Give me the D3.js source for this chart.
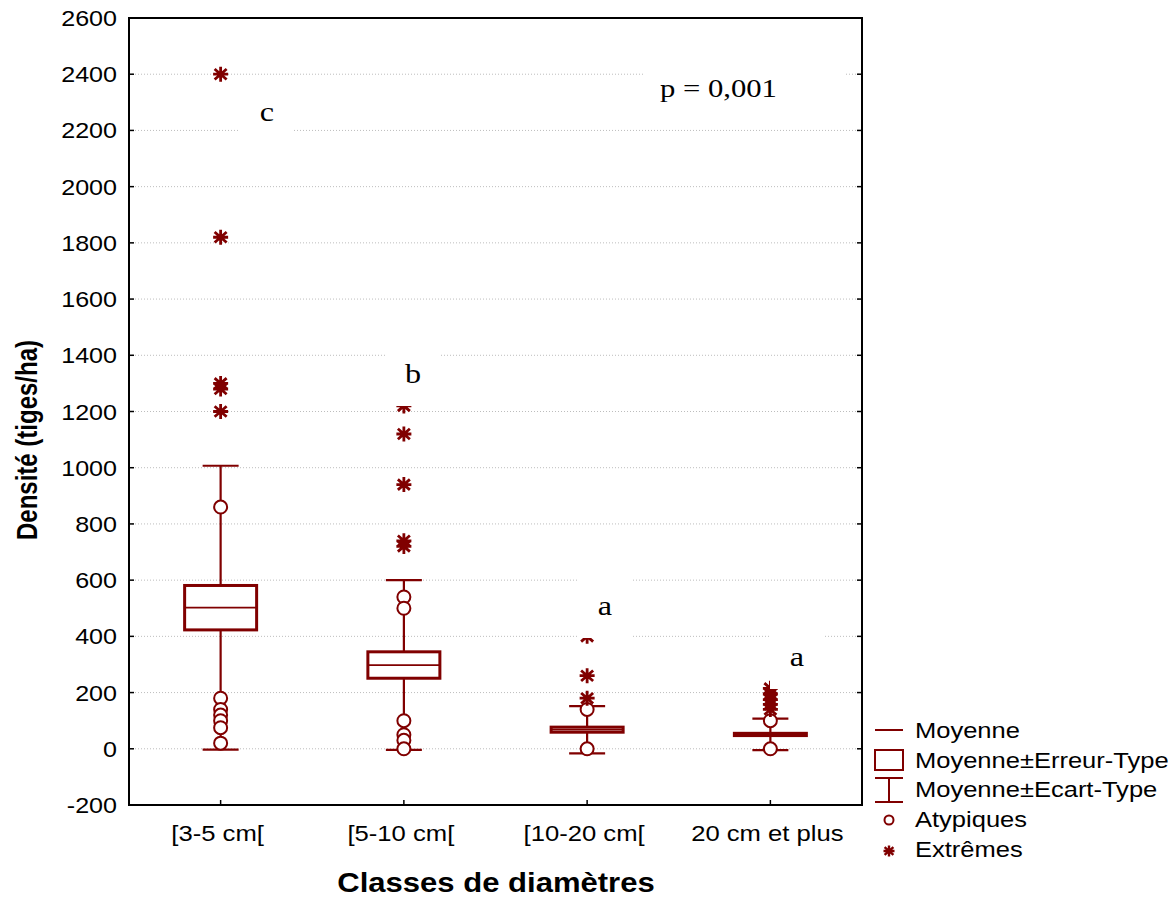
<!DOCTYPE html>
<html><head><meta charset="utf-8">
<script src="https://cdn.jsdelivr.net/npm/d3@7/dist/d3.min.js"></script>
<style>html,body{margin:0;padding:0;background:#fff;}svg{display:block;}</style>
</head><body><svg id="chart" width="1176" height="897"></svg>
<script>
// ---- data ----
const categories = ["[3-5 cm[", "[5-10 cm[", "[10-20 cm[", "20 cm et plus"];
const means = [502, 298, 68, 51];
const stdErrors = [79, 47, 9, 4];
const stdDevs = [505, 302, 84, 56];
const outliers = [
  [860, 180, 140, 120, 100, 75, 20],
  [540, 500, 100, 50, 30, 0],
  [140, 0],
  [100, 0]
];
const extremes = [
  [2400, 1820, 1300, 1280, 1200],
  [1220, 1120, 940, 740, 720],
  [400, 260, 180],
  [215, 195, 175, 158, 140]
];
const groupLetters = ["c", "b", "a", "a"];
const yTicks = [-200, 0, 200, 400, 600, 800, 1000, 1200, 1400, 1600, 1800, 2000, 2200, 2400, 2600];
const pText = "p = 0,001";
const legendLabels = ["Moyenne", "Moyenne±Erreur-Type", "Moyenne±Ecart-Type", "Atypiques", "Extrêmes"];
const yTitle = "Densité (tiges/ha)";
const xTitle = "Classes de diamètres";

// ---- layout ----
const L = 129, R = 862, T = 18, B = 805;
const red = "#800000";
const SX = 1.14;
const svg = d3.select("#chart");
const y = d3.scaleLinear().domain([-200, 2600]).range([B, T]);
const x = d3.scalePoint().domain(categories).range([L, R]).padding(0.5);

function htext(g, tx, ty, str, opts) {
  const t = g.append("g").attr("transform", `translate(${tx},${ty}) scale(${opts.sx || SX},1)`)
    .append("text").attr("x", 0).attr("y", 0).text(str)
    .attr("font-family", opts.family || "'Liberation Sans', Arial, sans-serif")
    .attr("font-size", opts.size).attr("fill", "#000")
    .attr("text-anchor", opts.anchor || "start");
  if (opts.weight) t.attr("font-weight", opts.weight);
  return t;
}

// gridlines
svg.append("g").selectAll("line").data(yTicks).join("line")
  .attr("x1", L).attr("x2", R).attr("y1", d => y(d)).attr("y2", d => y(d))
  .attr("stroke", "#bdbdbd").attr("stroke-width", 1).attr("stroke-dasharray", "1,2");

const gBox = svg.append("g");
const boxW = 72, capW = 36;
categories.forEach((c, i) => {
  const cx = x(c);
  const m = means[i], se = stdErrors[i], sd = stdDevs[i];
  gBox.append("line").attr("x1", cx).attr("x2", cx).attr("y1", y(m + sd)).attr("y2", y(m - sd))
    .attr("stroke", red).attr("stroke-width", 2.2);
  [m + sd, m - sd].forEach(v => gBox.append("line")
    .attr("x1", cx - capW / 2).attr("x2", cx + capW / 2).attr("y1", y(v)).attr("y2", y(v))
    .attr("stroke", red).attr("stroke-width", 2.2));
  gBox.append("rect").attr("x", cx - boxW / 2).attr("width", boxW)
    .attr("y", y(m + se)).attr("height", y(m - se) - y(m + se))
    .attr("fill", "#fff").attr("stroke", red).attr("stroke-width", 3);
  gBox.append("line").attr("x1", cx - boxW / 2).attr("x2", cx + boxW / 2).attr("y1", y(m)).attr("y2", y(m))
    .attr("stroke", red).attr("stroke-width", 1.8);
});

function star(g, cx, cy, r, w) {
  const d = `M${cx},${cy - r}L${cx},${cy + r}M${cx - r},${cy}L${cx + r},${cy}` +
    `M${cx - r * 0.8},${cy - r * 0.7}L${cx + r * 0.8},${cy + r * 0.7}` +
    `M${cx - r * 0.8},${cy + r * 0.7}L${cx + r * 0.8},${cy - r * 0.7}`;
  g.append("path").attr("d", d).attr("stroke", red).attr("stroke-width", w).attr("fill", "none");
}
const gPts = svg.append("g");
categories.forEach((c, i) => {
  const cx = x(c);
  outliers[i].forEach(v => gPts.append("circle").attr("cx", cx).attr("cy", y(v)).attr("r", 6.5)
    .attr("fill", "#fff").attr("stroke", red).attr("stroke-width", 2));
  extremes[i].forEach(v => star(gPts, cx, y(v), 7.5, 2.8));
});

// group letters with white background
const letterPos = [[267, 112], [413, 374], [605, 606], [797, 657]];
const gLab = svg.append("g");
groupLetters.forEach((l, i) => {
  const [lx, ly] = letterPos[i];
  gLab.append("rect").attr("x", lx - 27).attr("y", ly - 27).attr("width", 54).attr("height", 59).attr("fill", "#fff");
  htext(gLab, lx, ly + 9, l, { size: 28, family: "'Liberation Serif', 'Times New Roman', serif", anchor: "middle", sx: 1.15 });
});
gLab.append("rect").attr("x", 645).attr("y", 60).attr("width", 200).attr("height", 55).attr("fill", "#fff");
htext(gLab, 660, 97, pText, { size: 26, family: "'Liberation Serif', 'Times New Roman', serif", sx: 1.18 });

// frame
svg.append("rect").attr("x", L).attr("y", T).attr("width", R - L).attr("height", B - T)
  .attr("fill", "none").attr("stroke", "#000").attr("stroke-width", 2);

// y ticks
const gy = svg.append("g");
yTicks.forEach(v => {
  gy.append("line").attr("x1", L).attr("x2", L + 5).attr("y1", y(v)).attr("y2", y(v)).attr("stroke", "#000").attr("stroke-width", 1.5);
  gy.append("line").attr("x1", R - 5).attr("x2", R).attr("y1", y(v)).attr("y2", y(v)).attr("stroke", "#000").attr("stroke-width", 1.5);
  htext(gy, 117, y(v) + 8, String(v), { size: 22, anchor: "end" });
});
// x ticks
const gx = svg.append("g");
categories.forEach(c => {
  gx.append("line").attr("x1", x(c)).attr("x2", x(c)).attr("y1", B).attr("y2", B - 5).attr("stroke", "#000").attr("stroke-width", 1.5);
  htext(gx, x(c) - 3, 841, c, { size: 22.5, anchor: "middle" });
});

// titles
htext(svg, 496, 892, xTitle, { size: 27, weight: "bold", anchor: "middle", sx: 1.15 });
svg.append("g").attr("transform", `translate(37,440) scale(1.2,1) rotate(-90)`)
  .append("text").attr("x", 0).attr("y", 0).attr("text-anchor", "middle")
  .attr("font-family", "'Liberation Sans', Arial, sans-serif").attr("font-weight", "bold")
  .attr("font-size", 24).text(yTitle);

// legend
const gL = svg.append("g");
const lx0 = 875, lx1 = 903, lxc = 889, tx = 915;
const rowBase = [738, 768, 797, 827, 857];
gL.append("line").attr("x1", lx0).attr("x2", lx1).attr("y1", 730).attr("y2", 730).attr("stroke", red).attr("stroke-width", 2);
gL.append("rect").attr("x", lx0).attr("y", 750).attr("width", lx1 - lx0).attr("height", 20).attr("fill", "#fff").attr("stroke", red).attr("stroke-width", 2);
gL.append("line").attr("x1", lxc).attr("x2", lxc).attr("y1", 778).attr("y2", 802).attr("stroke", red).attr("stroke-width", 2);
[778, 802].forEach(v => gL.append("line").attr("x1", lx0).attr("x2", lx1).attr("y1", v).attr("y2", v).attr("stroke", red).attr("stroke-width", 2));
gL.append("circle").attr("cx", lxc).attr("cy", 820).attr("r", 4.5).attr("fill", "#fff").attr("stroke", red).attr("stroke-width", 2);
star(gL, lxc, 851, 5.5, 2.4);
legendLabels.forEach((t, i) => htext(gL, tx, rowBase[i], t, { size: 22, sx: 1.16 }));
</script></body></html>
